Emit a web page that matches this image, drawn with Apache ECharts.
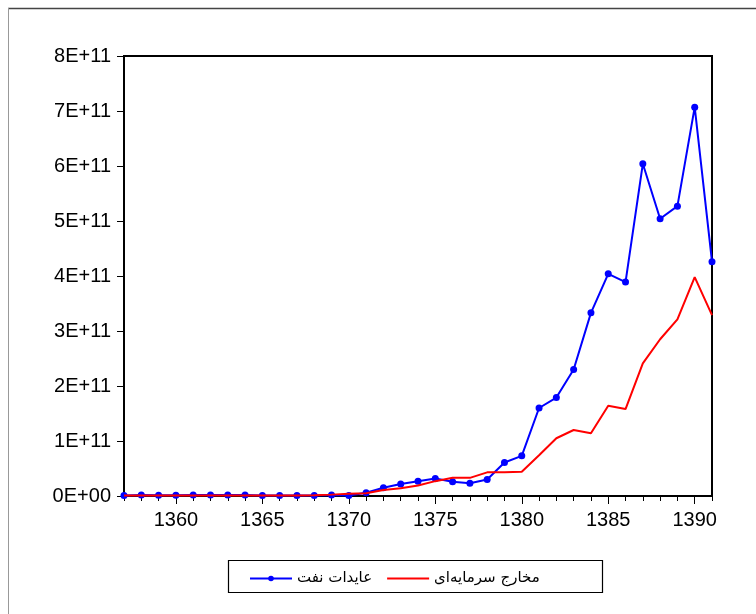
<!DOCTYPE html>
<html>
<head>
<meta charset="utf-8">
<script src="https://cdn.jsdelivr.net/npm/echarts@6/dist/echarts.min.js"></script>
<style>
html,body{margin:0;padding:0;background:#fff;}
#c{width:756px;height:614px;}
</style>
</head>
<body>
<div id="c"></div>
<script>
// Years (Iranian calendar)
const years = [];
for (let y = 1357; y <= 1391; y++) years.push(String(y));

// Values in units of 1E+11
const oilRevenue = [0.01,0.02,0.015,0.015,0.02,0.02,0.02,0.02,0.01,0.01,0.01,0.01,0.02,0.01,
  0.06,0.15,0.22,0.27,0.32,0.26,0.23,0.30,0.61,0.73,1.60,1.79,2.30,3.33,4.04,3.89,6.04,5.04,5.27,7.07,4.26];
const capitalExp = [0.01,0.01,0.01,0.01,0.01,0.01,0.01,0.01,0.01,0.01,0.01,0.015,0.025,0.04,
  0.05,0.11,0.14,0.19,0.27,0.33,0.33,0.43,0.43,0.44,0.74,1.05,1.20,1.14,1.64,1.58,2.41,2.85,3.21,3.98,3.29];

const nameOil = 'عایدات نفت';
const nameCap = 'مخارج سرمایه‌ای';
const yTicks = ['0E+00','1E+11','2E+11','3E+11','4E+11','5E+11','6E+11','7E+11','8E+11'];

const chart = echarts.init(document.getElementById('c'), null, {renderer:'canvas'});
const labelFont = {color:'#000', fontFamily:'Liberation Sans, Arial, sans-serif', fontSize:20};

chart.setOption({
  animation:false,
  backgroundColor:'#fff',
  graphic:[
    {type:'line', shape:{x1:8,y1:8.5,x2:756,y2:8.5}, style:{stroke:'#444',lineWidth:1.5}},
    {type:'line', shape:{x1:8.5,y1:8,x2:8.5,y2:614}, style:{stroke:'#999',lineWidth:1}},
    {type:'rect', shape:{x:228.5,y:560.5,width:374,height:32}, style:{fill:'#fff',stroke:'#000',lineWidth:1.2}, z:-1}
  ],
  grid:{left:124, top:56, right:44, bottom:118, show:true, borderColor:'#000', borderWidth:2, backgroundColor:'transparent'},
  legend:{
    left:244, top:566, itemWidth:42, itemHeight:7, itemGap:14,
    data:[{name:nameOil}, {name:nameCap, itemStyle:{opacity:0}}],
    textStyle:{color:'#000', fontFamily:'DejaVu Sans, Noto Sans, sans-serif', fontSize:15}
  },
  xAxis:[
    {type:'category', data:years, boundaryGap:false,
     axisLine:{lineStyle:{color:'#000',width:2}},
     axisTick:{interval:0, length:5, lineStyle:{color:'#000',width:1}},
     axisLabel:{...labelFont, margin:14, interval:(i,v)=>Number(v)%5===0}},
    {type:'category', data:years, boundaryGap:false, position:'bottom',
     axisLine:{show:false},
     axisTick:{interval:(i,v)=>Number(v)%5===0, length:8, lineStyle:{color:'#000',width:1}},
     axisLabel:{show:false}}
  ],
  yAxis:{type:'value', min:0, max:8, interval:1,
    axisLine:{show:true, lineStyle:{color:'#000',width:2}},
    axisTick:{show:true, length:7, lineStyle:{color:'#000',width:1}},
    splitLine:{show:false},
    axisLabel:{...labelFont, margin:13, formatter:v=>yTicks[Math.round(v)]}},
  series:[
    {name:nameOil, type:'line', data:oilRevenue, xAxisIndex:0, color:'#0000ff',
     symbol:'circle', symbolSize:7, showSymbol:true, lineStyle:{width:2, color:'#0000ff'},
     itemStyle:{color:'#0000ff'}, z:2},
    {name:nameCap, type:'line', data:capitalExp, xAxisIndex:0, color:'#ff0000',
     symbol:'none', lineStyle:{width:2, color:'#ff0000'}, itemStyle:{color:'#ff0000'}, z:3}
  ]
});
</script>
</body>
</html>
